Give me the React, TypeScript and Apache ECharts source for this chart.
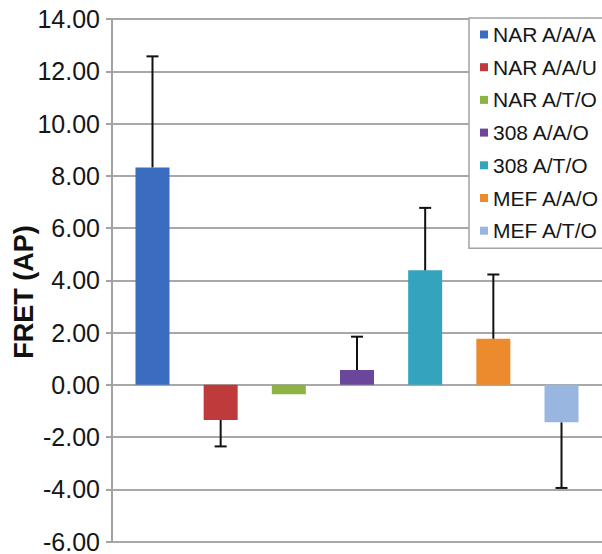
import React, { useEffect, useRef } from "react";
import * as echarts from "echarts";

const categories = ["NAR A/A/A", "NAR A/A/U", "NAR A/T/O", "308 A/A/O", "308 A/T/O", "MEF A/A/O", "MEF A/T/O"];
const values = [8.32, -1.35, -0.36, 0.56, 4.38, 1.76, -1.44];
const errors = [4.25, 1.01, 0, 1.28, 2.39, 2.46, 2.51];
const colors = ["#3a6cbf", "#bf3a3a", "#8db443", "#6b479c", "#34a3be", "#ec8a2e", "#98b6e0"];
const yTicks = { min: -6, max: 14, interval: 2 };
const yName = "FRET (AP)";

const FONT = "Liberation Sans, Arial, sans-serif";

export default function App() {
  const ref = useRef<HTMLDivElement>(null);
  useEffect(() => {
    if (!ref.current) return;
    const chart = echarts.init(ref.current, undefined, { renderer: "svg" });
    const barSeries = categories.map((name, i) => ({
      type: "bar",
      name,
      stack: "all",
      data: [[i, values[i]]],
      barWidth: 34,
      itemStyle: { color: colors[i] },
      z: 2,
    }));
    const errData = values.map((v, i) => [i, v, v + (v >= 0 ? 1 : -1) * errors[i]]);
    const option = {
      animation: false,
      backgroundColor: "#ffffff",
      grid: { left: 112, top: 19, bottom: 12, width: 497, containLabel: false },
      xAxis: {
        type: "value",
        min: -0.594,
        max: 6.594,
        axisLine: { show: false },
        axisTick: { show: false },
        axisLabel: { show: false },
        splitLine: { show: false },
      },
      yAxis: {
        type: "value",
        min: yTicks.min,
        max: yTicks.max,
        interval: yTicks.interval,
        axisLine: { show: true, onZero: false, lineStyle: { color: "#a3a3a3", width: 2 } },
        axisTick: { show: true, length: 6, lineStyle: { color: "#a3a3a3", width: 2 } },
        splitLine: { show: true, lineStyle: { color: "#a8a8a8", width: 2 } },
        axisLabel: {
          formatter: (v: number) => v.toFixed(2),
          fontSize: 25,
          color: "#161616",
          fontFamily: FONT,
          margin: 12,
        },
      },
      legend: {
        data: categories,
        orient: "vertical",
        left: 469,
        top: 18,
        itemWidth: 8,
        itemHeight: 8,
        itemGap: 11.7,
        icon: "rect",
        padding: [6, 14, 7, 11],
        borderColor: "#a3a3a3",
        borderWidth: 1.5,
        backgroundColor: "#ffffff",
        textStyle: { fontSize: 21, color: "#161616", fontFamily: FONT },
      },
      graphic: [
        {
          type: "text",
          x: 24,
          y: 292,
          rotation: Math.PI / 2,
          style: {
            text: yName,
            fontSize: 27,
            fontWeight: "bold",
            fontFamily: FONT,
            fill: "#111111",
            align: "center",
            verticalAlign: "middle",
          },
        },
      ],
      series: [
        ...barSeries,
        {
          type: "custom",
          name: "errors",
          data: errData,
          z: 3,
          renderItem: (params: any, api: any) => {
            const x = api.value(0);
            const v = api.value(1);
            const e = api.value(2);
            if (v === e) return null;
            const p0 = api.coord([x, v]);
            const p1 = api.coord([x, e]);
            const style = { stroke: "#111111", lineWidth: 2 };
            return {
              type: "group",
              children: [
                { type: "line", shape: { x1: p0[0], y1: p0[1], x2: p1[0], y2: p1[1] }, style },
                { type: "line", shape: { x1: p1[0] - 6, y1: p1[1], x2: p1[0] + 6, y2: p1[1] }, style },
              ],
            };
          },
        },
      ],
    };
    chart.setOption(option as any);
    return () => chart.dispose();
  }, []);
  return (
    <div
      ref={ref}
      style={{ position: "fixed", left: 0, top: 0, width: 602, height: 554 }}
    />
  );
}
